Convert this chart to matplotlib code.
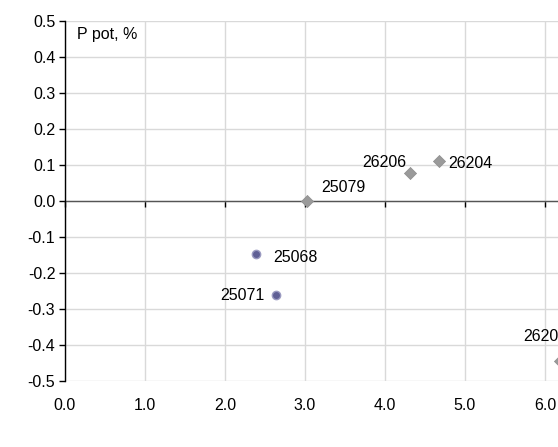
import matplotlib
matplotlib.use("Agg")
import matplotlib.pyplot as plt

plt.rcParams["font.family"] = ["Liberation Sans", "DejaVu Sans"]

# ── data ──────────────────────────────────────────────────────────────────────
diamond_x      = [3.02, 4.31, 4.67, 6.19]
diamond_y      = [0.0, 0.077, 0.110, -0.445]
diamond_labels = ["25079", "26206", "26204", "26205"]

circle_x      = [2.39, 2.64]
circle_y      = [-0.147, -0.262]
circle_labels = ["25068", "25071"]

x_ticks = [0, 1, 2, 3, 4, 5, 6]
y_ticks = [-0.5, -0.4, -0.3, -0.2, -0.1, 0.0, 0.1, 0.2, 0.3, 0.4, 0.5]

# label offsets in pixels (dx, dy, ha)
diamond_offsets = [(15, 13, "left"), (-3, 11, "right"), (10, -2, "left"), (-37, 25, "left")]
circle_offsets  = [(17, -4, "left"), (-12, 0, "right")]

FS = 11.5

W, H = 558, 447
fig = plt.figure(figsize=(W / 100, H / 100), dpi=100)
# plot area runs past the right edge of the picture, as in the source crop
ax = fig.add_axes([65 / W, 66 / H, 560 / W, 360 / H])

ax.set_xlim(0, 7)
ax.set_ylim(-0.5, 0.5)
ax.set_xticks(x_ticks)
ax.set_yticks(y_ticks)
ax.set_yticklabels([f"{v:.1f}" for v in y_ticks])
ax.grid(True, color="#d9d9d9", linewidth=1.0)
ax.set_axisbelow(True)

for s in ("top", "right"):
    ax.spines[s].set_visible(False)
ax.spines["left"].set_color("black")
ax.spines["left"].set_linewidth(1.0)
ax.spines["bottom"].set_position(("data", 0))
ax.spines["bottom"].set_color("#555555")
ax.spines["bottom"].set_linewidth(1.0)
ax.spines["bottom"].set_zorder(1)

ax.tick_params(axis="y", direction="out", length=4, width=1, labelsize=FS, pad=3)
ax.tick_params(axis="x", direction="out", length=4, width=1, color="black", labelbottom=False)

# x labels at the bottom of the plot area
sec = ax.secondary_xaxis("bottom")
sec.set_xticks(x_ticks)
sec.set_xticklabels([f"{v:.1f}" for v in x_ticks])
sec.spines["bottom"].set_visible(False)
sec.tick_params(length=0, labelsize=FS, pad=12)

ax.scatter(diamond_x, diamond_y, marker="D", s=38, color="#9a9a9a",
           edgecolors="#8c8c8c", linewidths=0.5, zorder=4, clip_on=False)
ax.scatter(circle_x, circle_y, marker="o", s=36, color="#5f5f95",
           edgecolors="#9a9ac0", linewidths=1.0, zorder=4)

for x, y, lab, (dx, dy, ha) in zip(diamond_x, diamond_y, diamond_labels, diamond_offsets):
    ax.annotate(lab, (x, y), xytext=(dx, dy), textcoords="offset pixels",
                ha=ha, va="center", fontsize=FS, annotation_clip=False)
for x, y, lab, (dx, dy, ha) in zip(circle_x, circle_y, circle_labels, circle_offsets):
    ax.annotate(lab, (x, y), xytext=(dx, dy), textcoords="offset pixels",
                ha=ha, va="center", fontsize=FS)

ax.text(0.15, 0.462, "P pot, %", fontsize=FS, ha="left", va="center")

fig.savefig("out.png", dpi=100)
